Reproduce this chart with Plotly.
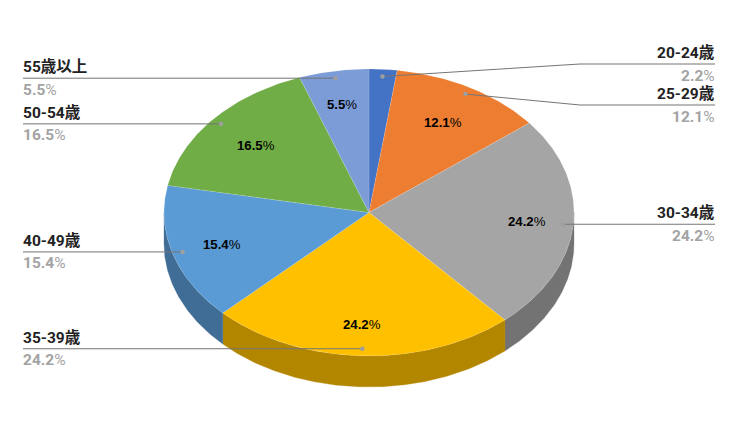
import math
import plotly.graph_objects as go

categories = ["20-24歳", "25-29歳", "30-34歳", "35-39歳", "40-49歳", "50-54歳", "55歳以上"]
values = [2.2, 12.1, 24.2, 24.2, 15.4, 16.5, 5.5]
colors = ["#4472C4", "#ED7D31", "#A5A5A5", "#FFC000", "#5B9BD5", "#70AD47", "#7C9CD8"]
side_colors = ["#30508A", "#A65822", "#737373", "#B38600", "#406D95", "#4E7932", "#576D97"]

W, H = 738, 422
CX, CY, RX, RY, DEPTH = 369, 212.5, 205, 143.5, 31


def px(x):
    return (x - CX) / RX


def py(y):
    return (CY - y) / RY


def pt(deg, r=1.0, drop=0.0):
    a = math.radians(deg)
    return r * math.sin(a), r * math.cos(a) - drop


def arc(a0, a1, drop=0.0):
    n = max(2, int(abs(a1 - a0)) * 2 + 1)
    return [pt(a0 + (a1 - a0) * i / (n - 1), 1.0, drop) for i in range(n)]


total = sum(values)
starts, ends, c = [], [], 0.0
for v in values:
    starts.append(c / total * 360)
    c += v
    ends.append(c / total * 360)

fig = go.Figure()
d = DEPTH / RY

# side wall (only the part facing the viewer)
for a0, a1, col in zip(starts, ends, side_colors):
    lo, hi = max(a0, 90), min(a1, 270)
    if hi <= lo:
        continue
    top = arc(lo, hi)
    bot = arc(hi, lo, d)
    poly = top + bot + top[:1]
    fig.add_trace(go.Scatter(x=[p[0] for p in poly], y=[p[1] for p in poly], mode="lines",
                             fill="toself", fillcolor=col, line=dict(color=col, width=0.3),
                             hoverinfo="skip", showlegend=False))

# top face
for a0, a1, col, cat in zip(starts, ends, colors, categories):
    poly = [(0, 0)] + arc(a0, a1) + [(0, 0)]
    fig.add_trace(go.Scatter(x=[p[0] for p in poly], y=[p[1] for p in poly], mode="lines",
                             fill="toself", fillcolor=col,
                             line=dict(color="rgba(255,255,255,0.25)", width=0.5),
                             name=cat, hoverinfo="name", showlegend=False))

annotations = []
LEFT_X, RIGHT_X, ELBOW_X = 23, 715, 580
right_rows = {0: 64, 1: 105}
# pixel nudges of the inner labels, which the reference does not place on one common radius
inner_nudge = {1: (-3, 5), 2: (2.5, 0), 3: (-1.5, 3), 4: (2, 0), 5: (5, 4), 6: (0, -1)}


def label(x, y, text, color, size, xanchor, yanchor, font="Roboto, 'Noto Sans CJK JP', sans-serif"):
    annotations.append(dict(x=px(x), y=py(y), xref="x", yref="y", text=text, showarrow=False,
                            xanchor=xanchor, yanchor=yanchor, borderpad=0,
                            font=dict(family=font, size=size, color=color)))


for i, (v, cat) in enumerate(zip(values, categories)):
    mid = (starts[i] + ends[i]) / 2
    dx, dy = pt(mid, 0.95)
    if mid < 180:
        yrow = right_rows.get(i, CY - dy * RY)
        xs = [px(RIGHT_X), px(ELBOW_X), dx] if i in right_rows else [px(RIGHT_X), dx]
        ys = [py(yrow), py(yrow), dy] if i in right_rows else [dy, dy]
        xa, xt = "right", RIGHT_X + 1
    else:
        yrow = CY - dy * RY
        xs = [px(LEFT_X), dx]
        ys = [dy, dy]
        xa, xt = "left", LEFT_X - 1
    fig.add_trace(go.Scatter(x=xs, y=ys, mode="lines", line=dict(color="#757575", width=1),
                             hoverinfo="skip", showlegend=False))
    fig.add_trace(go.Scatter(x=[dx], y=[dy], mode="markers",
                             marker=dict(color="#9E9E9E", size=4.5, line=dict(width=0)),
                             hoverinfo="skip", showlegend=False))
    label(xt, yrow - 1, f"<b>{cat}</b>", "#222222", 15.5, xa, "bottom")
    label(xt, yrow + 1.5, f"<b>{v}</b>%", "#A3A3A3", 15.5, xa, "top")
    if v >= 5:
        ix, iy = pt(mid, 0.76)
        nx, ny = inner_nudge.get(i, (0, 0))
        annotations.append(dict(x=ix + nx / RX, y=iy - ny / RY, xref="x", yref="y", text=f"<b>{v}</b>%",
                                showarrow=False,
                                font=dict(family="'Liberation Sans', Arial, sans-serif", size=13.2, color="#000000")))

fig.update_layout(
    width=W, height=H, margin=dict(l=0, r=0, t=0, b=0),
    paper_bgcolor="white", plot_bgcolor="white", showlegend=False,
    xaxis=dict(range=[px(0), px(W)], visible=False, fixedrange=True),
    yaxis=dict(range=[py(H), py(0)], visible=False, fixedrange=True),
    annotations=annotations,
)
fig.write_html("out.html", config={"displayModeBar": False}, post_script="document.body.style.margin='0';")
